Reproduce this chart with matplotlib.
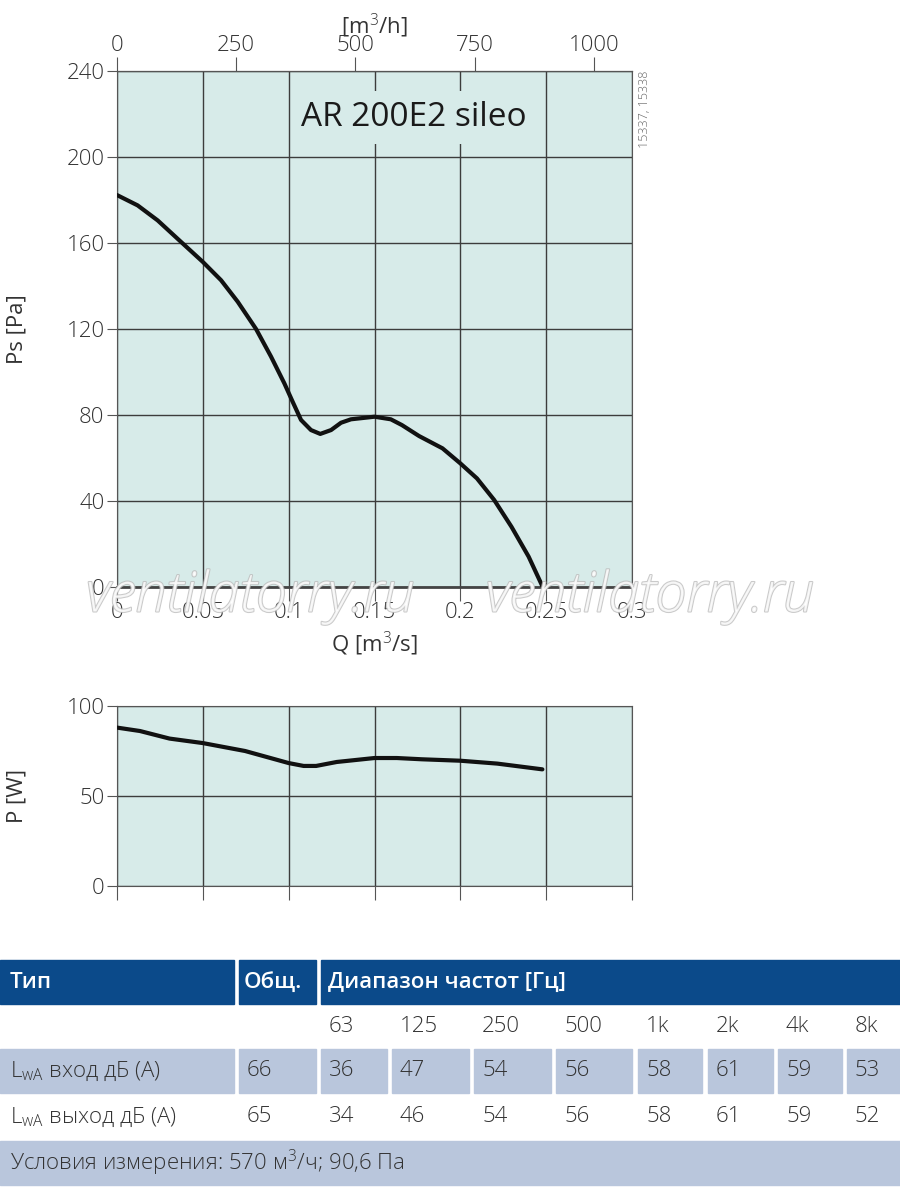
import matplotlib
matplotlib.use('Agg')
import matplotlib.pyplot as plt
import matplotlib.patheffects as pe
from matplotlib.patches import Rectangle

plt.rcParams['font.family'] = ['Open Sans', 'DejaVu Sans']
plt.rcParams['font.weight'] = 'light'
plt.rcParams['mathtext.fontset'] = 'custom'
plt.rcParams['mathtext.rm'] = 'Open Sans:light'

# --- data ---
q_ps = [0.0, 0.012, 0.0237, 0.0373, 0.05, 0.0606, 0.0703, 0.081, 0.0897, 0.0975,
        0.1023, 0.1072, 0.113, 0.1184, 0.1247, 0.1305, 0.1363, 0.15, 0.1595,
        0.166, 0.176, 0.1896, 0.2, 0.2097, 0.2197, 0.2298, 0.2398, 0.248]
ps = [182.3, 177.5, 170.5, 160.5, 151.2, 142.7, 132.7, 120.0, 107.2, 94.7,
      86.2, 77.7, 73.0, 71.2, 73.0, 76.4, 78.0, 79.2, 78.0,
      75.3, 70.2, 64.5, 57.5, 50.5, 40.5, 28.0, 14.1, 0.0]

q_p = [0.0, 0.0134, 0.0306, 0.05, 0.0746, 0.1, 0.1087, 0.116, 0.128, 0.15,
       0.163, 0.1775, 0.2, 0.2215, 0.2478]
power = [88.0, 86.1, 81.9, 79.4, 75.0, 68.3, 66.7, 66.7, 68.9, 71.1,
         71.1, 70.4, 69.6, 68.0, 64.8]

q_ticks = [0, 0.05, 0.1, 0.15, 0.2, 0.25, 0.3]
q_ticklabels = ['0', '0.05', '0.1', '0.15', '0.2', '0.25', '0.3']
mh_ticks = [0, 250, 500, 750, 1000]
ps_ticks = [0, 40, 80, 120, 160, 200, 240]
p_ticks = [0, 50, 100]

freqs = ['63', '125', '250', '500', '1k', '2k', '4k', '8k']
row_labels = ['L$_{\\mathrm{wA}}$ вход дБ (A)', 'L$_{\\mathrm{wA}}$ выход дБ (A)']
total = [66, 65]
lwa_in = [36, 47, 54, 56, 58, 61, 59, 53]
lwa_out = [34, 46, 54, 56, 58, 61, 59, 52]
conditions = 'Условия измерения: 570 м$^3$/ч; 90,6 Па'

bg = '#d7ebe9'
grid_c = '#3c3c3c'
dark_blue = '#0b4a8a'
light_blue = '#b9c6dc'
txt = '#333333'
fs = 16

fig = plt.figure(figsize=(9, 11.88), dpi=100)

# --- pressure chart ---
ax = fig.add_axes([117 / 900, 1 - 587 / 1188, 515 / 900, 516 / 1188])
ax.set_facecolor(bg)
ax.plot(q_ps, ps, color='#111111', lw=3, solid_capstyle='round',
        solid_joinstyle='round', zorder=4)
ax.set_xlim(0, 0.3)
ax.set_ylim(0, 240)
ax.set_xticks(q_ticks)
ax.set_xticklabels(q_ticklabels)
ax.set_yticks(ps_ticks)
ax.grid(True, color=grid_c, lw=1)
ax.set_axisbelow(True)
for s in ax.spines.values():
    s.set_color('#555555')
ax.spines['bottom'].set_linewidth(2)
ax.spines['bottom'].set_color('#444444')
ax.tick_params(axis='y', direction='out', length=7, color='#555555',
               labelsize=fs, labelcolor=txt, pad=2)
ax.tick_params(axis='x', direction='out', length=10, color='#555555',
               labelsize=fs, labelcolor=txt, pad=1)
ax.set_xlabel('Q [m$^3$/s]', fontsize=fs, color=txt, labelpad=5)
ax.set_ylabel('Ps [Pa]', fontsize=fs, color=txt, labelpad=28)

top = ax.secondary_xaxis('top', functions=(lambda q: q * 3600, lambda h: h / 3600))
top.set_xticks(mh_ticks)
top.tick_params(direction='out', length=10, color='#555555', labelsize=fs,
                labelcolor=txt, pad=1)
top.set_xlabel('[m$^3$/h]', fontsize=fs, color=txt, labelpad=1)

ax.text(0.577, 0.91, 'AR 200E2 sileo', transform=ax.transAxes, fontsize=24,
        fontweight='normal', color='#1a1a1a', ha='center', va='center',
        bbox=dict(boxstyle='square,pad=0.3', facecolor=bg, edgecolor='none'),
        zorder=5)
ax.text(1.025, 1.0, '15337, 15338', transform=ax.transAxes, rotation=90,
        fontsize=9, color='#666666', ha='center', va='top')

# watermark
for xw in [0.278, 0.722]:
    fig.text(xw, 1 - 597 / 1188, 'ventilatorry.ru', fontsize=40, style='italic',
             color='white', ha='center', va='center', alpha=0.8,
             path_effects=[pe.withStroke(linewidth=1.5, foreground='#bdbdbd')],
             zorder=10)

# --- power chart ---
ax2 = fig.add_axes([117 / 900, 1 - 886 / 1188, 515 / 900, 180 / 1188])
ax2.set_facecolor(bg)
ax2.plot(q_p, power, color='#111111', lw=3, solid_capstyle='round',
         solid_joinstyle='round', zorder=4)
ax2.set_xlim(0, 0.3)
ax2.set_ylim(0, 100)
ax2.set_xticks(q_ticks)
ax2.set_xticklabels([])
ax2.set_yticks(p_ticks)
ax2.grid(True, color=grid_c, lw=1)
ax2.set_axisbelow(True)
for s in ax2.spines.values():
    s.set_color('#555555')
ax2.tick_params(axis='y', direction='out', length=7, color='#555555',
                labelsize=fs, labelcolor=txt, pad=2)
ax2.tick_params(axis='x', direction='out', length=10, color='#555555')
ax2.set_ylabel('P [W]', fontsize=fs, color=txt, labelpad=28)

# --- sound table (pixel coordinates) ---
tb = fig.add_axes([0, 0, 1, 1])
tb.set_xlim(0, 900)
tb.set_ylim(1188, 0)
tb.axis('off')

col_l = [0, 239, 321, 392, 474, 556, 638, 708, 778, 847]
col_r = [234, 316, 387, 469, 551, 632, 702, 773, 842, 900]
hdr_y, hdr_h = 960, 44
row_h = 44

# header
tb.add_patch(Rectangle((0, hdr_y), 234, hdr_h, color=dark_blue))
tb.add_patch(Rectangle((239, hdr_y), 77, hdr_h, color=dark_blue))
tb.add_patch(Rectangle((321, hdr_y), 579, hdr_h, color=dark_blue))
hfont = dict(color='white', fontsize=16, va='center', fontweight='semibold')
tb.text(10, hdr_y + hdr_h / 2, 'Тип', **hfont)
tb.text(244, hdr_y + hdr_h / 2, 'Общ.', **hfont)
tb.text(328, hdr_y + hdr_h / 2, 'Диапазон частот [Гц]', **hfont)

cfont = dict(color=txt, fontsize=16, va='center')
y_f = 1026
for i, f in enumerate(freqs):
    tb.text(col_l[i + 2] + 8, y_f, f, **cfont)

rows = [lwa_in, lwa_out]
row_tops = [1049, 1095]
for r, (vals, ytop) in enumerate(zip(rows, row_tops)):
    if r == 0:
        for l, rr in zip(col_l, col_r):
            tb.add_patch(Rectangle((l, ytop), rr - l, row_h, color=light_blue))
    yc = ytop + row_h / 2
    tb.text(10, yc, row_labels[r], **cfont)
    tb.text(col_l[1] + 8, yc, str(total[r]), **cfont)
    for i, v in enumerate(vals):
        tb.text(col_l[i + 2] + 8, yc, str(v), **cfont)

tb.add_patch(Rectangle((0, 1141), 900, 44, color=light_blue))
tb.text(10, 1163, conditions, **cfont)

fig.savefig('out.png', dpi=100)
